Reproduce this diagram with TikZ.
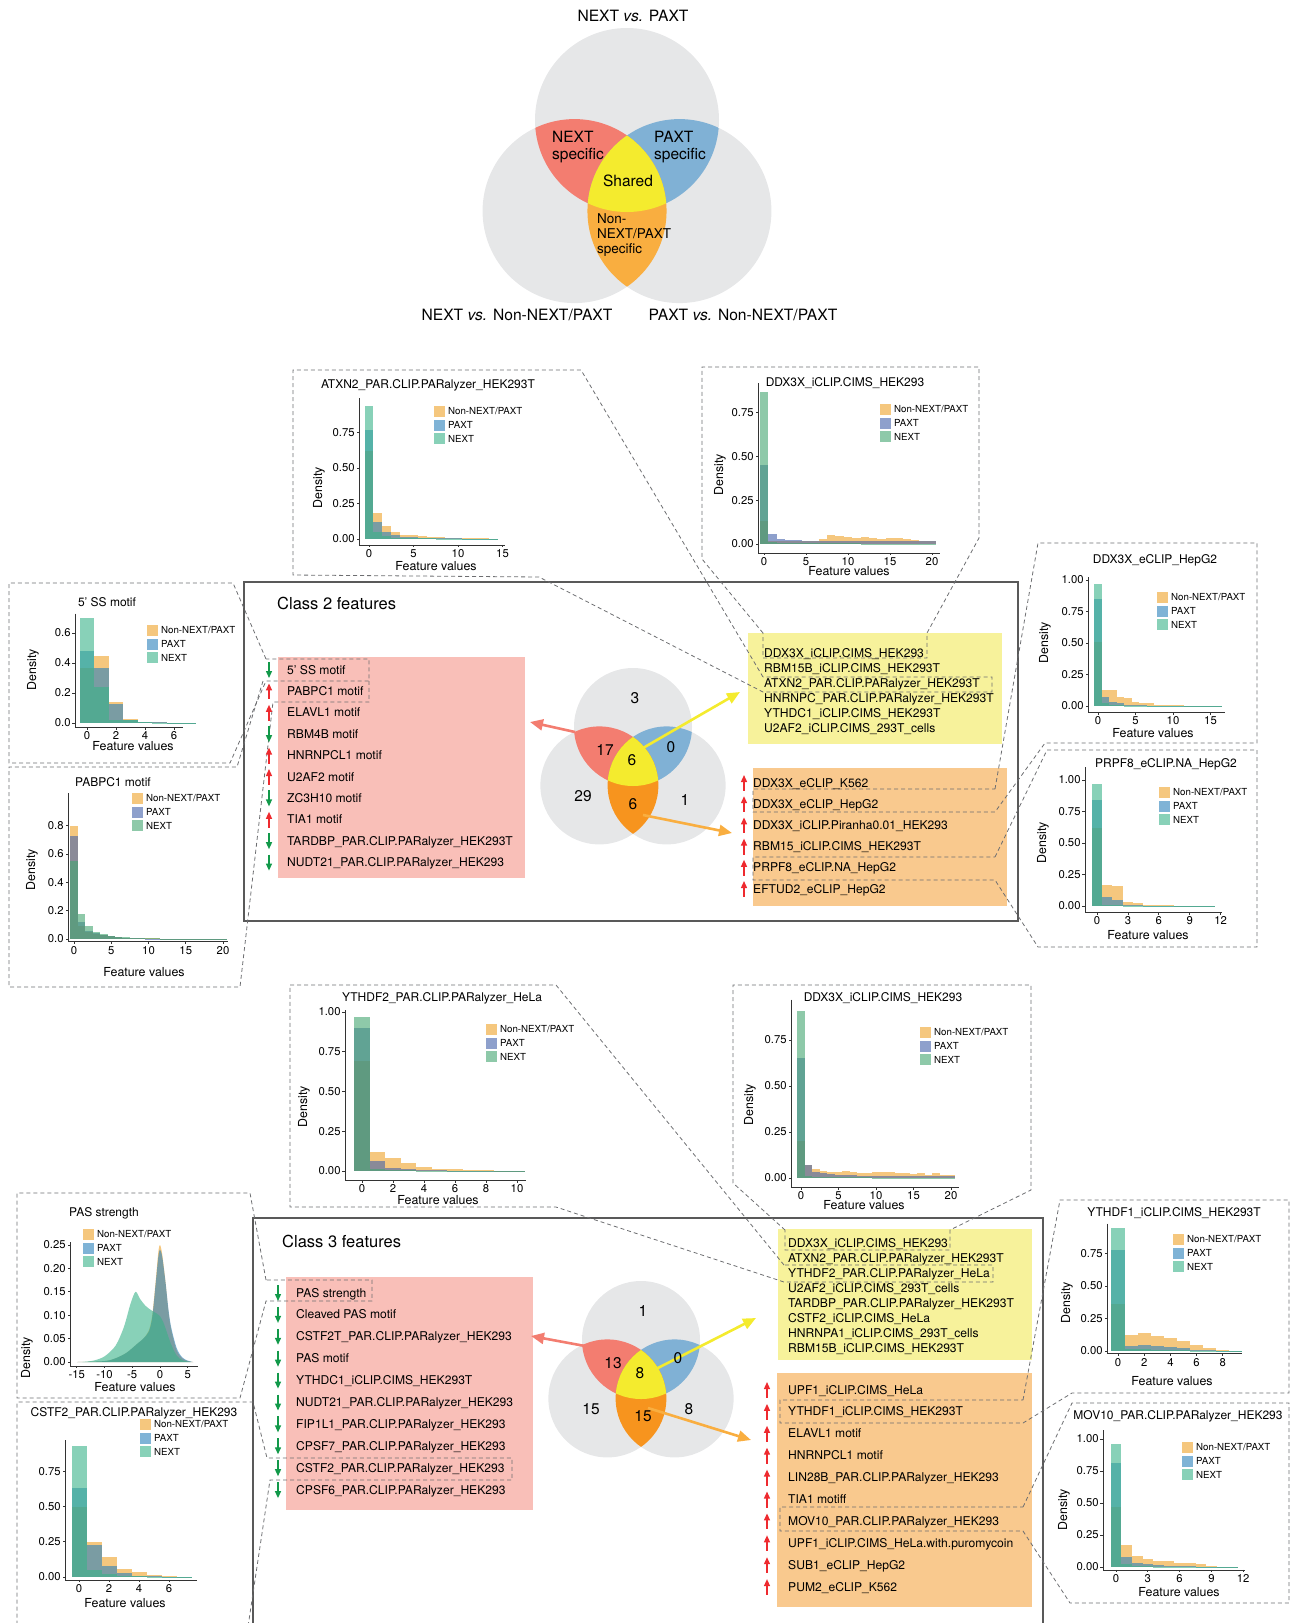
\documentclass[tikz,border=0pt]{standalone}
\usepackage{fontspec}
\setmainfont{TeX Gyre Heros}
\usetikzlibrary{arrows.meta}
\definecolor{vgray}{HTML}{E6E7E8}\definecolor{vred}{HTML}{F37D70}
\definecolor{vblue}{HTML}{80B1D5}\definecolor{vyel}{HTML}{F4EB2E}
\definecolor{vorl}{HTML}{F9AE40}\definecolor{vord}{HTML}{F7941E}
\definecolor{lred}{HTML}{F9BFB8}\definecolor{lyel}{HTML}{F7F29B}
\definecolor{lora}{HTML}{F9C98E}\definecolor{upred}{HTML}{EE2A2F}
\definecolor{dngrn}{HTML}{12994A}\definecolor{cgray}{HTML}{6D6E71}
\definecolor{nonf}{HTML}{EEA228}\definecolor{paxf}{HTML}{2A80BB}
\definecolor{nxtf}{HTML}{39B289}\definecolor{paxg}{HTML}{4361AA}
\definecolor{nxtg}{HTML}{43A570}\definecolor{nonk}{HTML}{F5C77E}
\definecolor{paxk}{HTML}{7FB3D6}\definecolor{nxtk}{HTML}{88D1B8}
\definecolor{paxl}{HTML}{8EA0CC}\definecolor{nxtl}{HTML}{8EC9A9}
\tikzset{
 callout/.style={draw=cgray,dash pattern=on 4pt off 3pt,line width=.8pt},
 classbox/.style={draw=black!65,line width=1.1pt},
 item/.style={anchor=base west,inner sep=0,font=\fontsize{12.1}{14}\selectfont},
 hdr/.style={anchor=west,inner sep=0,font=\fontsize{16.5}{19}\selectfont},
 vlab/.style={inner sep=0,font=\fontsize{15.6}{18}\selectfont},
 vreg/.style={inner sep=0,align=left,font=\fontsize{15.5}{17.7}\selectfont},
 vnum/.style={inner sep=0,font=\fontsize{15.5}{18}\selectfont},
 arrup/.style={draw=upred,line width=1.3pt,{Triangle[length=7pt,width=6pt]}-},
 arrdn/.style={draw=dngrn,line width=1.3pt,-{Triangle[length=7pt,width=6pt]}},
 varr/.style={line width=2.6pt,-{Triangle[length=13pt,width=11pt]}},
 htitle/.style={inner sep=0,font=\fontsize{12}{14}\selectfont},
 tkl/.style={anchor=east,inner sep=1.5pt,font=\fontsize{11.3}{13}\selectfont},
 tkb/.style={anchor=north,inner sep=1.5pt,font=\fontsize{11.3}{13}\selectfont},
 ylab/.style={rotate=90,inner sep=0,font=\fontsize{12.4}{14}\selectfont},
 xlab/.style={inner sep=0,font=\fontsize{12.4}{14}\selectfont},
 keyt/.style={anchor=west,inner sep=0,font=\fontsize{9.7}{11}\selectfont},
 axln/.style={draw=black!80,line width=.8pt},
 nonb/.style={fill=nonf,fill opacity=.6},
 paxb/.style={fill=paxf,fill opacity=.6},nxtb/.style={fill=nxtf,fill opacity=.6},
 paxc/.style={fill=paxg,fill opacity=.6},nxtc/.style={fill=nxtg,fill opacity=.6}}
\newcommand\venn[3]{\begin{scope}[shift={#1}]
 \path (0,0) coordinate (vt) (-.57*#2,.99*#2) coordinate (vl) (.57*#2,.99*#2) coordinate (vr);
 \fill[vgray] (vt) circle (#2) (vl) circle (#2) (vr) circle (#2);
 \begin{scope}\clip (vt) circle (#2);\fill[vred] (vl) circle (#2);\fill[vblue] (vr) circle (#2);\end{scope}
 \begin{scope}\clip (vl) circle (#2);\fill[#3] (vr) circle (#2);\end{scope}
 \begin{scope}\clip (vt) circle (#2);\clip (vl) circle (#2);\fill[vyel] (vr) circle (#2);\end{scope}
 \end{scope}}
\newcommand\hbars[2]{\foreach \h [count=\k from 0] in {#2} {\fill[#1] (\k-.5,0) rectangle (\k+.5,\h);}}
\newcommand\yticks[2]{\foreach \v/\t in {#2} {\draw[axln] (#1,\v) -- ++(-2.5pt,0) node[tkl]{\t};}}
\newcommand\xticks[2]{\foreach \v in {#2} {\draw[axln] (\v,#1) -- ++(0,-2.5pt) node[tkb]{\v};}}
\newcommand\hkey[4]{\fill[nonk] (#1,#2) rectangle ++(11,11);\fill[#3] (#1,#2+13.5) rectangle ++(11,11);
 \fill[#4] (#1,#2+27) rectangle ++(11,11);
 \node[keyt] at (#1+14,#2+5.5) {Non-NEXT/PAXT};\node[keyt] at (#1+14,#2+19) {PAXT};\node[keyt] at (#1+14,#2+32.5) {NEXT};}
\begin{document}
\begin{tikzpicture}[x=1pt,y=-1pt]
\useasboundingbox (0,0) rectangle (1291,1623);
% overview
\venn{(627,120)}{92}{vorl}
\node[vlab] (tv1) at (633,16) {NEXT \textit{vs.} PAXT};
\node[vlab] (tv2) at (517,315) {NEXT \textit{vs.} Non-NEXT/PAXT};
\node[vlab] (tv3) at (743,315) {PAXT \textit{vs.} Non-NEXT/PAXT};
\node[vreg] (rn) at (578,147) {NEXT\\specific};\node[vreg] (rp) at (680,147) {PAXT\\specific};
\node[vreg] (rs) at (628,181) {Shared};
\node[vreg,anchor=west,font=\fontsize{13.5}{15}\selectfont] (ro) at (597,235) {Non-\\NEXT/PAXT\\specific};
% class 2
\draw[classbox] (244,582) rectangle (1018,921);
\node[hdr] (c2h) at (277,603) {Class 2 features};
\fill[lred] (278,657) rectangle (525,878);\fill[lyel] (748,633) rectangle (1002,744);\fill[lora] (753,768) rectangle (1007,906);
\venn{(633,727)}{59}{vord}
\draw[callout] (763,633) -- (702,559) -- (702,367) -- (979,367) -- (979,538) -- (927,633) -- (927,658) -- (763,658) -- cycle;
\draw[callout] (763,677) -- (581,370) -- (293,370) -- (293,575) -- (539,577) -- (763,692) -- (992,692) -- (992,677) -- cycle;
\draw[callout] (266,659) -- (233,583) -- (9,583) -- (9,763) -- (230,763) -- (266,681) -- (369,681) -- (369,659) -- cycle;
\draw[callout] (263,681) -- (237,767) -- (9,767) -- (9,987) -- (240,987) -- (273,702) -- (369,702) -- (369,681);
\draw[callout] (995,789) -- (1038,543) -- (1257,543) -- (1257,743) -- (1045,743) -- (995,812) -- (753,812) -- (753,789) -- cycle;
\draw[callout] (995,857) -- (1047,750) -- (1257,750) -- (1257,947) -- (1038,947) -- (995,880) -- (753,880) -- (753,857) -- cycle;
\foreach \t/\a [count=\i from 0] in {5’ SS motif/arrdn,PABPC1 motif/arrup,ELAVL1 motif/arrup,RBM4B motif/arrdn,
 HNRNPCL1 motif/arrup,U2AF2 motif/arrup,ZC3H10 motif/arrdn,TIA1 motif/arrup,
 TARDBP\_PAR.CLIP.PARalyzer\_HEK293T/arrdn,NUDT21\_PAR.CLIP.PARalyzer\_HEK293/arrdn}
 {\node[item] (c2r\i) at (287,674+21.4*\i) {\t};\draw[\a] (269,662+21.4*\i) -- (269,678+21.4*\i);}
\foreach \t [count=\i from 0] in {DDX3X\_iCLIP.CIMS\_HEK293,RBM15B\_iCLIP.CIMS\_HEK293T,ATXN2\_PAR.CLIP.PARalyzer\_HEK293T,
 HNRNPC\_PAR.CLIP.PARalyzer\_HEK293T,YTHDC1\_iCLIP.CIMS\_HEK293T,U2AF2\_iCLIP.CIMS\_293T\_cells}
 \node[item] (c2y\i) at (764,657+15*\i) {\t};
\foreach \t [count=\i from 0] in {DDX3X\_eCLIP\_K562,DDX3X\_eCLIP\_HepG2,DDX3X\_iCLIP.Piranha0.01\_HEK293,
 RBM15\_iCLIP.CIMS\_HEK293T,PRPF8\_eCLIP.NA\_HepG2,EFTUD2\_eCLIP\_HepG2}
 {\node[item] (c2o\i) at (753,787+21.2*\i) {\t};\draw[arrup] (744,775+21.2*\i) -- (744,791+21.2*\i);}
\path (575,732) coordinate (v2n) (530,722) coordinate (t2n) (643,748) coordinate (v2s) (740,692) coordinate (t2s)
 (643,815) coordinate (v2o) (732,833) coordinate (t2o);
\draw[varr,vred] (v2n) -- (t2n);\draw[varr,vyel] (v2s) -- (t2s);\draw[varr,vorl] (v2o) -- (t2o);
\node[vnum] (n23) at (635,698) {3};\node[vnum] (n217) at (605,750) {17};\node[vnum] (n26) at (632,760) {6};
\node[vnum] (n20) at (671,747) {0};\node[vnum] (n229) at (583,796) {29};\node[vnum] (n26b) at (633,804) {6};
\node[vnum] (n21) at (685,800) {1};
% class 3
\draw[classbox] (253,1640) |- (1043,1218) -- (1043,1640);
\node[hdr] (c3h) at (282,1241) {Class 3 features};
\fill[lred] (286,1277) rectangle (533,1510);\fill[lyel] (778,1229) rectangle (1032,1360);\fill[lora] (777,1373) rectangle (1032,1607);
\venn{(641,1340)}{59}{vord}
\draw[callout] (266,1280) -- (250,1193) -- (17,1193) -- (17,1398) -- (240,1398) -- (266,1301) -- (372,1301) -- (372,1280) -- cycle;
\draw[callout] (246,1640) -- (270,1480) -- (512,1480) -- (512,1458) -- (267,1458) -- (253,1402) -- (17,1402) -- (17,1640);
\draw[callout] (784,1265) -- (556,985) -- (290,985) -- (290,1207) -- (556,1207) -- (784,1282) -- (993,1282) -- (993,1265) -- cycle;
\draw[callout] (785,1230) -- (733,1183) -- (733,985) -- (1031,985) -- (1031,1190) -- (950,1230) -- (950,1250) -- (785,1250) -- cycle;
\draw[callout] (1023,1400) -- (1060,1200) -- (1289,1200) -- (1289,1393) -- (1072,1393) -- (1023,1423) -- (780,1423) -- (780,1400) -- cycle;
\draw[callout] (1023,1507) -- (1072,1403) -- (1289,1403) -- (1289,1603) -- (1070,1603) -- (1023,1531) -- (780,1531) -- (780,1507) -- cycle;
\foreach \t [count=\i from 0] in {PAS strength,Cleaved PAS motif,CSTF2T\_PAR.CLIP.PARalyzer\_HEK293,PAS motif,
 YTHDC1\_iCLIP.CIMS\_HEK293T,NUDT21\_PAR.CLIP.PARalyzer\_HEK293,FIP1L1\_PAR.CLIP.PARalyzer\_HEK293,
 CPSF7\_PAR.CLIP.PARalyzer\_HEK293,CSTF2\_PAR.CLIP.PARalyzer\_HEK293,CPSF6\_PAR.CLIP.PARalyzer\_HEK293}
 {\node[item] (c3r\i) at (296,1297+21.9*\i) {\t};\draw[arrdn] (278,1285+21.9*\i) -- (278,1301+21.9*\i);}
\foreach \t [count=\i from 0] in {DDX3X\_iCLIP.CIMS\_HEK293,ATXN2\_PAR.CLIP.PARalyzer\_HEK293T,YTHDF2\_PAR.CLIP.PARalyzer\_HeLa,
 U2AF2\_iCLIP.CIMS\_293T\_cells,TARDBP\_PAR.CLIP.PARalyzer\_HEK293T,CSTF2\_iCLIP.CIMS\_HeLa,
 HNRNPA1\_iCLIP.CIMS\_293T\_cells,RBM15B\_iCLIP.CIMS\_HEK293T}
 \node[item] (c3y\i) at (788,1247+15*\i) {\t};
\foreach \t [count=\i from 0] in {UPF1\_iCLIP.CIMS\_HeLa,YTHDF1\_iCLIP.CIMS\_HEK293T,ELAVL1 motif,HNRNPCL1 motif,
 LIN28B\_PAR.CLIP.PARalyzer\_HEK293,TIA1 motiff,MOV10\_PAR.CLIP.PARalyzer\_HEK293,
 UPF1\_iCLIP.CIMS\_HeLa.with.puromycoin,SUB1\_eCLIP\_HepG2,PUM2\_eCLIP\_K562}
 {\node[item] (c3o\i) at (788,1394+21.9*\i) {\t};\draw[arrup] (767,1382+21.9*\i) -- (767,1398+21.9*\i);}
\path (585,1346) coordinate (v3n) (531,1336) coordinate (t3n) (650,1372) coordinate (v3s) (756,1318) coordinate (t3s)
 (648,1408) coordinate (v3o) (751,1440) coordinate (t3o);
\draw[varr,vred] (v3n) -- (t3n);\draw[varr,vyel] (v3s) -- (t3s);\draw[varr,vorl] (v3o) -- (t3o);
\node[vnum] (n31) at (643,1311) {1};\node[vnum] (n313) at (613,1363) {13};\node[vnum] (n38) at (640,1373) {8};
\node[vnum] (n30) at (678,1358) {0};\node[vnum] (n315) at (591,1409) {15};\node[vnum] (n315b) at (643,1416) {15};
\node[vnum] (n38b) at (689,1409) {8};
% histogram panels, class 2
\node[htitle] (p1t) at (428,385) {ATXN2\_PAR.CLIP.PARalyzer\_HEK293T};
\begin{scope}[shift={(369,539)},x=8.9pt,y=142pt]
\hbars{nonb}{.62,.18,.09,.05,.03,.025,.02,.015,.012,.01,.008,.006,.005,.004,.003}
\hbars{paxb}{.77,.12,.05,.025,.015,.012,.01,.008,.006,.005,.004,.003,.002,.002,.001}
\hbars{nxtb}{.94,.05,.02,.01,.008,.006,.005,.004,.003,.002,.002,.001,.001,.001,.001}
\draw[axln] (-1.12,.99) |- (15.3,-.042);
\yticks{-1.12}{0/0.00,.25/0.25,.5/0.50,.75/0.75}\xticks{-.042}{0,5,10,15}
\end{scope}
\node[ylab] (p1y) at (319,488) {Density};\node[xlab] (p1x) at (436,566) {Feature values};
\hkey{434}{406}{paxk}{nxtk}
\node[htitle] (p2t) at (845,383) {DDX3X\_iCLIP.CIMS\_HEK293};
\begin{scope}[shift={(764,544)},x=8.4pt,y=175pt]
\hbars{nonb}{.13,.02,.02,.02,.02,.02,.02,.03,.05,.045,.04,.035,.04,.035,.03,.035,.035,.03,.025,.02,.02}
\hbars{paxc}{.45,.06,.03,.025,.025,.02,.02,.02,.02,.02,.02,.02,.02,.02,.02,.015,.015,.015,.015,.015,.015}
\hbars{nxtc}{.87,.01,.008,.006,.005,.005,.004,.004,.003,.003,.003,.003,.002,.002,.002,.002,.002,.002,.002,.002,.002}
\draw[axln] (-.71,.92) |- (20.95,-.051);
\yticks{-.71}{0/0.00,.25/0.25,.5/0.50,.75/0.75}\xticks{-.051}{0,5,10,15,20}
\end{scope}
\node[ylab] (p2y) at (720,475) {Density};\node[xlab] (p2x) at (849,571) {Feature values};
\hkey{880}{404}{paxl}{nxtl}
\node[htitle] (p3t) at (1155,560) {DDX3X\_eCLIP\_HepG2};
\begin{scope}[shift={(1098,706)},x=7.5pt,y=126pt]
\hbars{nonb}{.51,.13,.13,.07,.06,.03,.02,.02,.012,.008,.006,.005,.004,.003,.003,.002,.002}
\hbars{paxb}{.85,.07,.03,.02,.012,.008,.006,.004,.003,.002,.002,.001,.001,.001,.001,.001,.001}
\hbars{nxtb}{.97,.02,.01,.005,.004,.003,.002,.002,.001,.001,.001,.001,.001,.001,.001,.001,.001}
\draw[axln] (-1.33,1.02) |- (16.9,-.048);
\yticks{-1.33}{0/0.00,.25/0.25,.5/0.50,.75/0.75,1/1.00}\xticks{-.048}{0,5,10,15}
\end{scope}
\node[ylab] (p3y) at (1045,643) {Density};\node[xlab] (p3x) at (1153,733) {Feature values};
\hkey{1157}{592}{paxk}{nxtk}
\node[htitle] (p4t) at (1166,764) {PRPF8\_eCLIP.NA\_HepG2};
\begin{scope}[shift={(1097,906)},x=10.3pt,y=126pt]
\hbars{nonb}{.62,.17,.16,.03,.02,.01,.008,.005,.004,.003,.003,.002}
\hbars{paxb}{.84,.07,.05,.012,.006,.004,.003,.002,.002,.001,.001,.001}
\hbars{nxtb}{.97,.01,.008,.004,.003,.002,.001,.001,.001,.001,.001,.001}
\draw[axln] (-1.17,1.1) |- (12.1,-.048);
\yticks{-1.17}{0/0.00,.25/0.25,.5/0.50,.75/0.75,1/1.00}\xticks{-.048}{0,3,6,9,12}
\end{scope}
\node[ylab] (p4y) at (1043,843) {Density};\node[xlab] (p4x) at (1148,935) {Feature values};
\hkey{1159}{787}{paxk}{nxtk}
\node[htitle] (p5t) at (107,602) {5’ SS motif};
\begin{scope}[shift={(87,723)},x=14.5pt,y=150pt]
\hbars{nonb}{.37,.45,.14,.03,.01,.005,.003,.002}
\hbars{paxb}{.48,.37,.13,.02,.008,.004,.002,.001}
\hbars{nxtb}{.70,.24,.02,.02,.01,.003,.002,.001}
\draw[axln] (-.83,.73) |- (6.6,-.027);
\yticks{-.83}{0/0.0,.2/0.2,.4/0.4,.6/0.6}\xticks{-.027}{0,2,4,6}
\end{scope}
\node[ylab] (p5y) at (33,670) {Density};\node[xlab] (p5x) at (133,746) {Feature values};
\hkey{147}{625}{paxk}{nxtk}
\node[htitle] (p6t) at (113,782) {PABPC1 motif};
\begin{scope}[shift={(74,939)},x=7.45pt,y=141.7pt]
\hbars{nonb}{.80,.09,.05,.035,.025,.02,.012,.01,.006,.005,.004,.004,.003,.003,.003,.002,.002,.002,.002,.002,.002}
\hbars{paxc}{.73,.12,.06,.04,.03,.02,.012,.008,.005,.004,.003,.003,.002,.002,.002,.002,.002,.002,.002,.002,.002}
\hbars{nxtc}{.55,.18,.09,.05,.035,.02,.015,.015,.006,.005,.004,.004,.003,.003,.003,.003,.003,.003,.003,.003,.003}
\draw[axln] (-.8,1.03) |- (20.7,-.02);
\yticks{-.8}{0/0.0,.2/0.2,.4/0.4,.6/0.6,.8/0.8}\xticks{-.02}{0,5,10,15,20}
\end{scope}
\node[ylab] (p6y) at (32,870) {Density};\node[xlab] (p6x) at (144,972) {Feature values};
\hkey{132}{793}{paxl}{nxtl}
% histogram panels, class 3
\node[htitle] (p7t) at (442,998) {YTHDF2\_PAR.CLIP.PARalyzer\_HeLa};
\begin{scope}[shift={(362,1171)},x=15.5pt,y=159pt]
\hbars{nonb}{.69,.12,.08,.05,.025,.015,.015,.005,.005,.003,.002}
\hbars{paxc}{.90,.06,.02,.01,.005,.004,.003,.002,.002,.001,.001}
\hbars{nxtc}{.97,.01,.008,.005,.003,.002,.002,.001,.001,.001,.001}
\draw[axln] (-1.1,1.01) |- (10.6,-.057);
\yticks{-1.1}{0/0.00,.25/0.25,.5/0.50,.75/0.75,1/1.00}\xticks{-.057}{0,2,4,6,8,10}
\end{scope}
\node[ylab] (p7y) at (304,1107) {Density};\node[xlab] (p7x) at (438,1200) {Feature values};
\hkey{486}{1024}{paxl}{nxtl}
\node[htitle] (p8t) at (883,998) {DDX3X\_iCLIP.CIMS\_HEK293};
\begin{scope}[shift={(801,1178)},x=7.5pt,y=184pt]
\hbars{nonb}{.20,.07,.05,.04,.03,.03,.04,.03,.025,.025,.03,.03,.03,.025,.025,.02,.025,.015,.025,.015,.015}
\hbars{paxc}{.65,.07,.03,.025,.02,.015,.015,.015,.012,.012,.012,.01,.01,.01,.01,.01,.01,.01,.01,.01,.01}
\hbars{nxtc}{.91,.01,.006,.005,.004,.004,.003,.003,.003,.003,.002,.002,.002,.002,.002,.002,.002,.002,.002,.002,.002}
\draw[axln] (-1.33,.97) |- (21.1,-.049);
\yticks{-1.33}{0/0.00,.25/0.25,.5/0.50,.75/0.75}\xticks{-.049}{0,5,10,15,20}
\end{scope}
\node[ylab] (p8y) at (750,1105) {Density};\node[xlab] (p8x) at (864,1205) {Feature values};
\hkey{920}{1027}{paxl}{nxtl}
\node[htitle] (p9t) at (104,1213) {PAS strength};
\begin{scope}[shift={(160,1362)},x=5.55pt,y=468pt]
\fill[nonb] plot[smooth] coordinates {(-15,0) (-10,.002) (-8,.008) (-6,.02) (-4,.04) (-3,.05) (-2,.068) (-1.4,.1)
 (-.8,.17) (-.3,.235) (0,.25) (.4,.23) (1,.17) (1.5,.11) (2,.07) (3,.025) (4,.008) (5,.002) (6,0)} -- cycle;
\fill[paxb] plot[smooth] coordinates {(-15,0) (-10,.002) (-8,.008) (-6,.02) (-4,.04) (-3,.05) (-2,.065) (-1.4,.095)
 (-.8,.165) (-.3,.225) (0,.24) (.4,.225) (1,.17) (1.5,.115) (2,.075) (3,.03) (4,.01) (5,.003) (6,0)} -- cycle;
\fill[nxtb] plot[smooth] coordinates {(-14,0) (-12,.003) (-10,.012) (-8,.035) (-6.5,.075) (-5.3,.125) (-4.4,.15)
 (-3.6,.135) (-2.6,.12) (-1.5,.11) (-.5,.103) (0,.098) (.6,.085) (1.2,.065) (2,.038) (3,.014) (4,.004) (5.5,0)} -- cycle;
\draw[axln] (-16.2,.256) |- (6.85,-.0085);
\yticks{-16.2}{0/0.00,.05/0.05,.1/0.10,.15/0.15,.2/0.20,.25/0.25}\xticks{-.0085}{-15,-10,-5,0,5}
\end{scope}
\node[ylab] (p9y) at (27,1358) {Density};\node[xlab] (p9x) at (135,1387) {Feature values};
\hkey{83}{1229}{paxk}{nxtk}
\node[htitle] (p10t) at (134,1413) {CSTF2\_PAR.CLIP.PARalyzer\_HEK293};
\begin{scope}[shift={(79,1577)},x=15pt,y=141pt]
\hbars{nonb}{.50,.25,.14,.06,.035,.015,.005,.003}
\hbars{paxb}{.63,.23,.08,.03,.01,.005,.002,.001}
\hbars{nxtb}{.93,.05,.02,.01,.005,.002,.001,.001}
\draw[axln] (-.93,.97) |- (7.87,-.021);
\yticks{-.93}{0/0.00,.25/0.25,.5/0.50,.75/0.75}\xticks{-.021}{0,2,4,6}
\end{scope}
\node[xlab] (p10x) at (125,1603) {Feature values};
\hkey{140}{1419}{paxk}{nxtk}
\node[htitle] (p11t) at (1174,1213) {YTHDF1\_iCLIP.CIMS\_HEK293T};
\begin{scope}[shift={(1118,1351)},x=13.1pt,y=130pt]
\hbars{nonb}{.36,.12,.135,.115,.10,.08,.045,.02,.005,.003}
\hbars{paxb}{.78,.04,.05,.04,.03,.02,.01,.005,.002,.001}
\hbars{nxtb}{.95,.015,.012,.01,.008,.005,.003,.002,.001,.001}
\draw[axln] (-.84,.98) |- (9.5,-.02);
\yticks{-.84}{0/0.00,.25/0.25,.5/0.50,.75/0.75}\xticks{-.02}{0,2,4,6,8}
\end{scope}
\node[ylab] (p11y) at (1067,1303) {Density};\node[xlab] (p11x) at (1172,1381) {Feature values};
\hkey{1173}{1234}{paxk}{nxtk}
\node[htitle] (p12t) at (1178,1416) {MOV10\_PAR.CLIP.PARalyzer\_HEK293};
\begin{scope}[shift={(1116,1567)},x=10.6pt,y=128pt]
\hbars{nonb}{.47,.17,.09,.065,.05,.045,.035,.03,.02,.005,.003,.003}
\hbars{paxb}{.81,.075,.03,.02,.015,.01,.008,.006,.004,.002,.001,.001}
\hbars{nxtb}{.96,.02,.01,.006,.004,.003,.002,.002,.001,.001,.001,.001}
\draw[axln] (-1.23,1.07) |- (12.2,-.023);
\yticks{-1.23}{0/0.00,.25/0.25,.5/0.50,.75/0.75,1/1.00}\xticks{-.023}{0,3,6,9,12}
\end{scope}
\node[ylab] (p12y) at (1064,1510) {Density};\node[xlab] (p12x) at (1179,1592) {Feature values};
\hkey{1182}{1442}{paxk}{nxtk}
\end{tikzpicture}
\end{document}
